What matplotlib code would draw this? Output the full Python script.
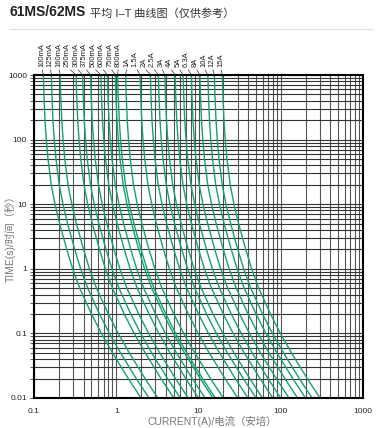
import numpy as np
import matplotlib
matplotlib.use('Agg')
from matplotlib import pyplot as plt
from matplotlib.ticker import LogLocator, NullFormatter, FixedLocator, FixedFormatter

plt.rcParams['font.family'] = ['Liberation Sans', 'Noto Sans CJK SC', 'DejaVu Sans']

# fuse ratings (label / amps)
rating_labels = ['100mA', '125mA', '160mA', '250mA', '300mA', '375mA', '500mA', '600mA',
                 '750mA', '800mA', '1A', '1.5A', '2A', '2.5A', '3A', '4A', '5A', '6.3A',
                 '8A', '10A', '12A', '15A']
rating_amps = [0.1, 0.125, 0.16, 0.25, 0.3, 0.375, 0.5, 0.6,
               0.75, 0.8, 1.0, 1.5, 2.0, 2.5, 3.0, 4.0, 5.0, 6.3,
               8.0, 10.0, 12.0, 15.0]

# average melting curve: time (s) vs multiple of rated current
time_s = [1000, 500, 200, 100, 50, 20, 10, 5, 2, 1, 0.5, 0.2, 0.1, 0.05, 0.02, 0.01]
multiple = [1.30, 1.32, 1.36, 1.41, 1.48, 1.62, 1.80, 2.05, 2.5, 2.95, 3.6, 5.0, 6.6, 9.0, 14.0, 20.0]

x_ticks = [0.1, 1, 10, 100, 1000]
x_ticklabels = ['0.1', '1', '10', '100', '1000']
y_ticks = [0.01, 0.1, 1, 10, 100, 1000]
y_ticklabels = ['0.01', '0.1', '1', '10', '100', '1000']

W, H = 382, 428
fig = plt.figure(figsize=(W / 100, H / 100), dpi=100)
ax = fig.add_axes([34 / W, 30 / H, 329 / W, 323 / H])
ax.set_xscale('log')
ax.set_yscale('log')
ax.set_xlim(0.1, 1000)
ax.set_ylim(0.01, 1000)

# grid: majors + all minors
ax.xaxis.set_minor_locator(LogLocator(base=10, subs=np.arange(2, 10)))
ax.yaxis.set_minor_locator(LogLocator(base=10, subs=np.arange(2, 10)))
ax.xaxis.set_minor_formatter(NullFormatter())
ax.yaxis.set_minor_formatter(NullFormatter())
ax.grid(True, which='both', axis='x', color='#555555', lw=0.8)
ax.grid(True, which='both', axis='y', color='#333333', lw=0.8)
ax.set_axisbelow(True)

ax.xaxis.set_major_locator(FixedLocator(x_ticks))
ax.xaxis.set_major_formatter(FixedFormatter(x_ticklabels))
ax.yaxis.set_major_locator(FixedLocator(y_ticks))
ax.yaxis.set_major_formatter(FixedFormatter(y_ticklabels))
ax.tick_params(axis='x', which='both', length=0, pad=7, labelsize=6, labelcolor='#222222')
ax.tick_params(axis='y', which='both', direction='out', length=3, width=0.6,
               color='#444444', pad=2, labelsize=6, labelcolor='#222222')

for sp in ax.spines.values():
    sp.set_linewidth(1.5)
    sp.set_color('black')

green = '#16a070'
for i, (lab, amp) in enumerate(zip(rating_labels, rating_amps)):
    cur = amp * np.array(multiple)
    ax.plot(cur, time_s, color=green, lw=1.0, solid_capstyle='butt')
    ax.annotate(lab, xy=(cur[0], time_s[0]), xycoords='data',
                xytext=(0.0234 + i * 0.0259, 1.0248), textcoords='axes fraction',
                rotation=90, ha='center', va='bottom', fontsize=5.5, color='#222222',
                annotation_clip=False,
                arrowprops=dict(arrowstyle='-', lw=0.5, color='#333333',
                                shrinkA=0, shrinkB=0, relpos=(0.5, 0)))

# titles and axis captions
fig.text(10 / W, 1 - 16.5 / H, '61MS/62MS', fontsize=10, fontweight='bold',
         color='#222222', va='baseline', ha='left')
fig.text(90 / W, 1 - 16.5 / H, '平均 I–T 曲线图（仅供参考）', fontsize=8,
         color='#333333', va='baseline', ha='left')
fig.add_artist(plt.Line2D([10 / W, 372 / W], [1 - 29 / H, 1 - 29 / H],
                          color='#dddddd', lw=0.8))

fig.text(10 / W, 1 - 236 / H, 'TIME(s)/时间（秒）', fontsize=7.5, color='#777777',
         rotation=90, ha='center', va='center')
fig.text(212 / W, 1 - 427 / H, 'CURRENT(A)/电流（安培）', fontsize=7.5, color='#777777',
         ha='center', va='bottom')

fig.savefig('out.png', dpi=100)
